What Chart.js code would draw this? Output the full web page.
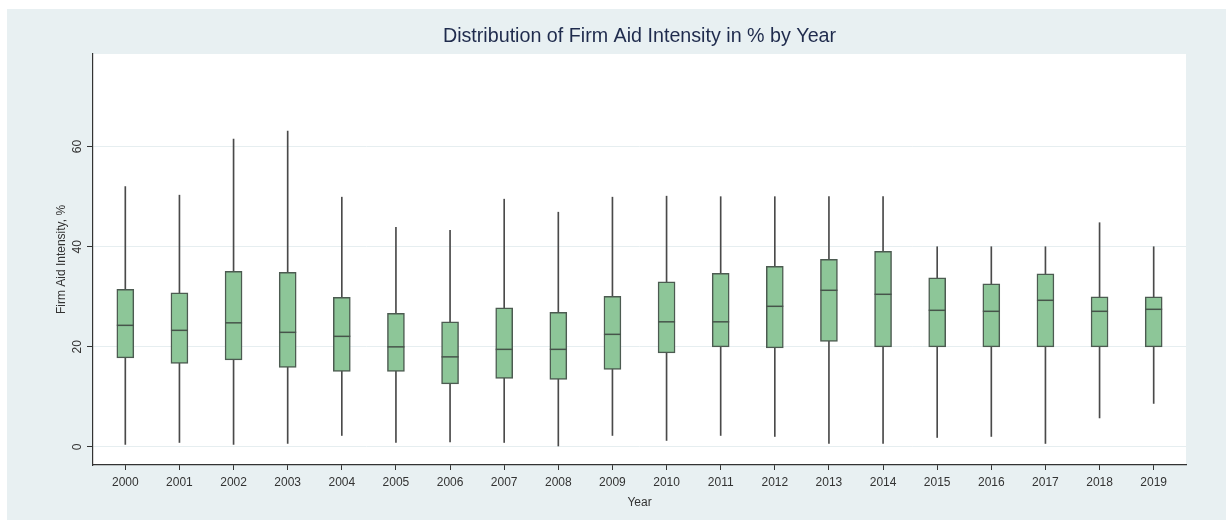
<!DOCTYPE html>
<html>
<head>
<meta charset="utf-8">
<script src="https://cdn.jsdelivr.net/npm/chart.js@4.4.1/dist/chart.umd.min.js"></script>
<style>
  body { margin: 0; background: #fff; }
  #panel {
    position: absolute; left: 7px; top: 9px;
    width: 1219px; height: 511px;
    background: #e8f0f2;
  }
</style>
</head>
<body>
<div id="panel"><canvas id="boxChart"></canvas></div>
<script>
const years = ["2000","2001","2002","2003","2004","2005","2006","2007","2008","2009",
               "2010","2011","2012","2013","2014","2015","2016","2017","2018","2019"];
const whiskerLow  = [0.5, 0.9, 0.5, 0.7, 2.3, 0.9, 1.0, 0.9, 0.2, 2.3, 1.3, 2.3, 2.1, 0.7, 0.7, 1.9, 2.1, 0.7, 5.8, 8.7];
const q1          = [17.8, 16.7, 17.4, 15.9, 15.1, 15.1, 12.6, 13.7, 13.5, 15.5, 18.8, 20.0, 19.8, 21.1, 20.0, 20.0, 20.0, 20.0, 20.0, 20.0];
const median      = [24.3, 23.3, 24.8, 22.9, 22.1, 20.0, 18.0, 19.5, 19.5, 22.5, 25.0, 25.0, 28.1, 31.3, 30.5, 27.3, 27.1, 29.3, 27.1, 27.5];
const q3          = [31.5, 30.8, 35.1, 34.9, 29.9, 26.7, 25.0, 27.8, 26.9, 30.1, 33.0, 34.7, 36.1, 37.5, 39.1, 33.8, 32.6, 34.6, 30.0, 30.0];
const whiskerHigh = [52.0, 50.3, 61.5, 63.1, 49.9, 43.9, 43.3, 49.5, 46.9, 49.9, 50.1, 50.0, 50.0, 50.0, 50.0, 40.0, 40.0, 40.0, 44.8, 40.0];
const yTickValues = [0, 20, 40, 60];

const FONT = "'Liberation Sans', Arial, sans-serif";
const INK = "#333333";

const plotBg = {
  id: "plotBg",
  beforeDraw(chart) {
    const { ctx, chartArea: a } = chart;
    ctx.save();
    ctx.fillStyle = "#ffffff";
    ctx.fillRect(a.left, a.top, a.right - a.left, a.bottom - a.top);
    ctx.restore();
  }
};

new Chart(document.getElementById("boxChart"), {
  type: "bar",
  data: {
    datasets: [
      {
        type: "line",
        label: "Median",
        data: median.map((v, i) => ({ x: i, y: v })),
        showLine: false,
        pointStyle: "line",
        pointRadius: 8.5,
        pointBorderWidth: 1.5,
        pointBorderColor: "#46544a",
        order: 0
      },
      {
        label: "IQR",
        data: q1.map((v, i) => ({ x: i, y: [v, q3[i]] })),
        backgroundColor: "#8dc698",
        borderColor: "#4c5b51",
        borderWidth: 1.5,
        borderSkipped: false,
        barThickness: 17,
        grouped: false,
        order: 1
      },
      {
        label: "Range",
        data: whiskerLow.map((v, i) => ({ x: i, y: [v, whiskerHigh[i]] })),
        backgroundColor: "#4a4a4a",
        borderWidth: 0,
        barThickness: 1,
        grouped: false,
        order: 2
      }
    ]
  },
  options: {
    responsive: true,
    maintainAspectRatio: false,
    animation: false,
    layout: { padding: { left: 0, right: 40, top: 0, bottom: 7 } },
    plugins: {
      legend: { display: false },
      tooltip: { enabled: false },
      title: {
        display: true,
        fullSize: false,
        text: "Distribution of Firm Aid Intensity in % by Year",
        color: "#1f2b4d",
        font: { family: FONT, size: 19.7, weight: "normal", lineHeight: 1.2 },
        padding: { top: 16, bottom: 5.36 }
      }
    },
    scales: {
      x: {
        type: "linear",
        offset: false,
        min: -0.597,
        max: 19.597,
        afterBuildTicks: s => { s.ticks = years.map((y, i) => ({ value: i })); },
        afterFit: s => { s.height = 48; },
        ticks: {
          autoSkip: false,
          maxRotation: 0,
          padding: 5,
          color: INK,
          font: { family: FONT, size: 12 },
          callback: v => years[v]
        },
        grid: { offset: false, drawOnChartArea: false, tickLength: 5, tickColor: INK, tickWidth: 1 },
        border: { display: true, color: INK, width: 1.2 },
        title: {
          display: true,
          text: "Year",
          color: INK,
          font: { family: FONT, size: 12 },
          padding: { top: 0, bottom: 3 }
        }
      },
      y: {
        type: "linear",
        min: -3.6,
        max: 78.5,
        afterBuildTicks: s => { s.ticks = yTickValues.map(v => ({ value: v })); },
        afterFit: s => { s.width = 86; },
        ticks: {
          minRotation: 90,
          maxRotation: 90,
          crossAlign: "center",
          padding: 3,
          color: INK,
          font: { family: FONT, size: 12 }
        },
        grid: { color: "#e6eef0", lineWidth: 1, tickLength: 6, tickColor: INK },
        border: { display: true, color: INK, width: 1.2 },
        title: {
          display: true,
          text: "Firm Aid Intensity, %",
          color: INK,
          font: { family: FONT, size: 12 },
          padding: { top: 47.5, bottom: 0 }
        }
      }
    }
  },
  plugins: [plotBg]
});
</script>
</body>
</html>
